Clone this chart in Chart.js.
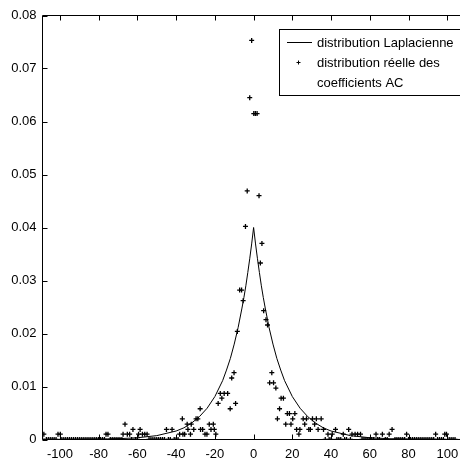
<!DOCTYPE html>
<html>
<head>
<meta charset="utf-8">
<script src="https://cdn.jsdelivr.net/npm/chart.js@4/dist/chart.umd.min.js"></script>
<style>
  html, body { margin: 0; padding: 0; background: #fff; overflow: hidden; }
</style>
</head>
<body>
<canvas id="chart" width="470" height="460"></canvas>
<script>
// axis ticks
const xTicks = [-100, -80, -60, -40, -20, 0, 20, 40, 60, 80, 100];
const yTicks = [0, 0.01, 0.02, 0.03, 0.04, 0.05, 0.06, 0.07, 0.08];

// Laplacian model curve
const laplaceX = [-109, -100, -90, -80, -70, -60, -50, -40, -36, -32, -28, -24, -20, -16, -14, -12, -10, -8, -6, -5, -4, -3, -2, -1,
  0, 1, 2, 3, 4, 5, 6, 8, 10, 12, 14, 16, 20, 24, 28, 32, 36, 40, 50, 60, 70, 80, 90, 100, 109];
const laplaceY = [0.00001, 0.00001, 0.00003, 0.00007, 0.00015, 0.00033, 0.00073, 0.0016, 0.0022, 0.0031, 0.0043, 0.0059, 0.0081, 0.0111, 0.0131, 0.0153, 0.0180, 0.0211, 0.0248, 0.0268, 0.0290, 0.0315, 0.0341, 0.0369,
  0.0400, 0.0369, 0.0341, 0.0315, 0.0290, 0.0268, 0.0248, 0.0211, 0.0180, 0.0153, 0.0131, 0.0111, 0.0081, 0.0059, 0.0043, 0.0031, 0.0022, 0.0016, 0.00073, 0.00033, 0.00015, 0.00007, 0.00003, 0.00001, 0.00001];

// measured AC coefficient distribution, non-empty bins
const realX = [-108.3, -101.0, -99.8, -76.2, -75.2, -67.4, -66.4, -65.2, -64.0, -62.3, -59.4, -58.6, -57.4, -56.2, -55.0,
  -45.0, -42.1, -38.2, -36.8, -36.5, -35.6, -34.3, -33.9, -32.6, -32.2, -30.9, -29.7, -28.8, -27.6, -27.4, -26.3, -25.1, -24.1,
  -22.9, -22.0, -20.8, -20.3, -19.5, -18.3, -17.2, -16.4, -15.2, -13.4, -12.1, -11.3, -10.1, -9.3, -8.4, -7.2, -6.2, -5.4,
  -4.2, -3.3, -2.0, -1.0, 0.1, 0.9, 1.8, 2.8, 3.5, 4.3, 5.2, 6.4, 7.2, 8.3, 9.4, 10.3, 11.5, 12.3, 13.4, 14.2, 15.4,
  16.6, 17.4, 18.5, 19.3, 20.2, 21.3, 22.2, 23.4, 23.9, 25.6, 26.4, 27.3, 28.5, 29.3, 30.4, 31.5, 32.4, 33.3, 34.9,
  36.1, 38.4, 40.6, 42.3, 46.3, 49.1, 50.8, 52.4, 53.7, 55.2, 63.2, 66.5, 70.0, 71.5, 79.0, 94.0, 98.7, 99.6];
const realY = [0.0010, 0.0010, 0.0010, 0.0010, 0.0010, 0.0010, 0.0029, 0.0010, 0.0010, 0.0019, 0.0010, 0.0019, 0.0010, 0.0010, 0.0010,
  0.0019, 0.0019, 0.0010, 0.0039, 0.0010, 0.0010, 0.0029, 0.0019, 0.0010, 0.0029, 0.0019, 0.0039, 0.0039, 0.0058, 0.0019, 0.0019, 0.0010, 0.0010,
  0.0029, 0.0019, 0.0029, 0.0019, 0.0010, 0.0068, 0.0087, 0.0078, 0.0087, 0.0087, 0.0058, 0.0116, 0.0126, 0.0068, 0.0204, 0.0282, 0.0282, 0.0262,
  0.0402, 0.0469, 0.0645, 0.0753, 0.0615, 0.0615, 0.0615, 0.0460, 0.0333, 0.0370, 0.0243, 0.0226, 0.0216, 0.0107, 0.0126, 0.0107, 0.0097, 0.0039, 0.0058, 0.0078, 0.0078,
  0.0029, 0.0049, 0.0049, 0.0029, 0.0039, 0.0049, 0.0019, 0.0010, 0.0019, 0.0039, 0.0029, 0.0039, 0.0019, 0.0019, 0.0039, 0.0029, 0.0039, 0.0019, 0.0039,
  0.0019, 0.0010, 0.0010, 0.0019, 0.0010, 0.0019, 0.0010, 0.0010, 0.0010, 0.0010, 0.0010, 0.0010, 0.0010, 0.0019, 0.0010, 0.0010, 0.0010, 0.0010];

// empty bins (value 0) of the same distribution
const emptyX = [-109, -107, -106, -105, -104, -103, -102, -99, -98, -97, -96, -95, -94, -93, -92, -91, -90,
  -89, -88, -87, -86, -85, -84, -83, -82, -81, -80, -79, -78, -77, -74, -73, -72, -71, -70, -69, -68,
  -63, -61, -60, -54, -53, -52, -51, -50, -49, -48, -47, -46, -44, -43, -41, -40, -39,
  37, 39, 40, 43, 44, 45, 47, 48, 50, 56, 57, 58, 59, 60, 61, 62, 64, 65, 68, 69, 73, 74, 75, 76, 77, 78,
  80, 81, 82, 83, 84, 85, 86, 87, 88, 89, 90, 91, 92, 93, 95, 96, 97, 98, 101, 102, 103, 104];

const labelLaplace = 'distribution Laplacienne';
const labelReal = ['distribution réelle des', 'coefficients AC'];

const FONT = "'Liberation Sans', Arial, sans-serif";
const FSIZE = 13;

const realPoints = realX.map((x, i) => ({ x: x, y: realY[i] }))
  .concat(emptyX.map(x => ({ x: x, y: 0 })));

function drawCross(ctx, cx, cy, r) {
  ctx.moveTo(cx - r, cy); ctx.lineTo(cx + r, cy);
  ctx.moveTo(cx, cy - r); ctx.lineTo(cx, cy + r);
}

// MATLAB-like box: inward ticks and a framed legend
const matlabAxes = {
  id: 'matlabAxes',
  afterDraw(chart) {
    const { ctx, chartArea: a, scales: { x, y } } = chart;
    ctx.save();
    ctx.strokeStyle = '#000';
    ctx.lineWidth = 1;
    ctx.beginPath();
    ctx.moveTo(a.left, a.top); ctx.lineTo(a.left, a.bottom);
    ctx.moveTo(a.left, a.bottom); ctx.lineTo(a.right, a.bottom);
    ctx.moveTo(a.left, a.top); ctx.lineTo(a.right, a.top);
    xTicks.forEach(v => {
      const px = Math.round(x.getPixelForValue(v)) + 0.5;
      ctx.moveTo(px, a.bottom); ctx.lineTo(px, a.bottom - 5);
      ctx.moveTo(px, a.top); ctx.lineTo(px, a.top + 5);
    });
    yTicks.forEach(v => {
      const py = Math.round(y.getPixelForValue(v)) + 0.5;
      ctx.moveTo(a.left, py); ctx.lineTo(a.left + 5, py);
    });
    ctx.stroke();

    // legend
    const lx = 279.5, ly = 29.5;
    ctx.fillStyle = '#fff';
    ctx.fillRect(lx, ly, a.right - lx + 10, 66);
    ctx.strokeRect(lx, ly, a.right - lx + 10, 66);
    ctx.beginPath();
    ctx.moveTo(287, 42.5); ctx.lineTo(312, 42.5);
    drawCross(ctx, 298.5, 62.5, 2);
    ctx.stroke();
    ctx.fillStyle = '#000';
    ctx.font = FSIZE + 'px ' + FONT;
    ctx.textAlign = 'left';
    ctx.textBaseline = 'middle';
    ctx.fillText(labelLaplace, 317, 43);
    ctx.fillText(labelReal[0], 317, 63);
    ctx.fillText(labelReal[1], 317, 83);
    ctx.restore();
  }
};

new Chart(document.getElementById('chart'), {
  type: 'scatter',
  data: {
    datasets: [
      {
        type: 'line',
        label: labelLaplace,
        data: laplaceX.map((x, i) => ({ x: x, y: laplaceY[i] })),
        borderColor: '#000',
        borderWidth: 1,
        pointRadius: 0,
        tension: 0,
        fill: false,
        clip: 0
      },
      {
        label: labelReal.join(' '),
        data: realPoints,
        pointStyle: 'cross',
        pointRadius: 2.5,
        borderColor: '#000',
        backgroundColor: '#000',
        borderWidth: 1.3,
        clip: 0
      }
    ]
  },
  options: {
    responsive: false,
    animation: false,
    layout: { padding: { top: 15.5, left: 0, right: 0, bottom: 0 } },
    plugins: { legend: { display: false }, tooltip: { enabled: false } },
    scales: {
      x: {
        type: 'linear',
        min: -109,
        max: 109,
        grid: { display: false, drawTicks: false },
        border: { display: false },
        afterFit: s => { s.height = 20.5; },
        afterBuildTicks: s => { s.ticks = xTicks.map(v => ({ value: v })); },
        ticks: {
          color: '#000',
          autoSkip: false,
          maxRotation: 0,
          padding: 7,
          font: { family: FONT, size: FSIZE }
        }
      },
      y: {
        min: 0,
        max: 0.08,
        grid: { display: false, drawTicks: false },
        border: { display: false },
        afterFit: s => { s.width = 42.5; },
        afterBuildTicks: s => { s.ticks = yTicks.map(v => ({ value: v })); },
        ticks: {
          color: '#000',
          padding: 6,
          font: { family: FONT, size: FSIZE },
          callback: v => String(+v.toFixed(2))
        }
      }
    }
  },
  plugins: [matlabAxes]
});
</script>
</body>
</html>
